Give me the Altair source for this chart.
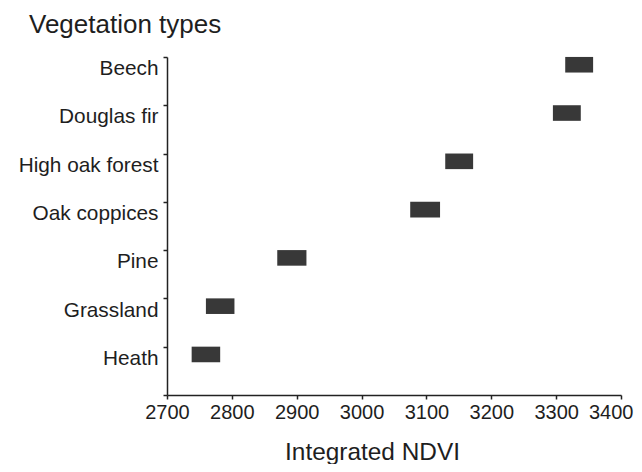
import altair as alt
import pandas as pd

types = ["Beech", "Douglas fir", "High oak forest", "Oak coppices", "Pine", "Grassland", "Heath"]
ndvi_low = [3314, 3295, 3129, 3075, 2870, 2760, 2738]
ndvi_high = [3357, 3338, 3172, 3121, 2915, 2804, 2782]
x_ticks = [2700, 2800, 2900, 3000, 3100, 3200, 3300, 3400]

df = pd.DataFrame({"type": types, "low": ndvi_low, "high": ndvi_high})

FONT = "Liberation Sans"
INK = "#1e1e1e"
last_tick = x_ticks[-1]

chart = alt.Chart(df).mark_bar(color="#383838", height=15.6, yOffset=-16.4).encode(
    x=alt.X("low:Q",
            scale=alt.Scale(domain=[2700, 3400], nice=False, zero=False),
            axis=alt.Axis(values=x_ticks, format="d", title="Integrated NDVI",
                          grid=False, tickSize=4, labelPadding=3,
                          labelFontSize=20, labelFont=FONT, labelColor=INK,
                          labelAlign=alt.expr(f"datum.value == {last_tick} ? 'right' : 'center'"),
                          labelOffset=alt.expr(f"datum.value == {last_tick} ? 12 : 0"),
                          titleFont=FONT, titleFontSize=24.4, titleFontWeight="normal",
                          titleColor=INK, titleX=205, titleY=64,
                          titleAlign="center", titleBaseline="alphabetic",
                          domainColor="#222", tickColor="#222",
                          domainWidth=1.5, tickWidth=1.5, labelFlush=False)),
    x2="high:Q",
    y=alt.Y("type:N", sort=types,
            scale=alt.Scale(paddingInner=0, paddingOuter=0),
            axis=alt.Axis(title="Vegetation types", grid=False, tickBand="extent",
                          tickSize=4, labelPadding=5, labelOffset=-12.5,
                          labelFontSize=20.8, labelFont=FONT, labelColor=INK,
                          titleFont=FONT, titleFontSize=26, titleFontWeight="normal",
                          titleColor=INK, titleAngle=0, titleX=-138.5, titleY=-25,
                          titleAlign="left", titleBaseline="alphabetic",
                          domainColor="#222", tickColor="#222",
                          domainWidth=1.5, tickWidth=1.5)),
).properties(
    width=454,
    height=338,
    autosize=alt.AutoSizeParams(type="none"),
    padding={"left": 159, "top": 49, "right": 13, "bottom": 69},
).configure_view(stroke=None)

chart.save("out.html", embed_options={"renderer": "svg", "actions": False})
